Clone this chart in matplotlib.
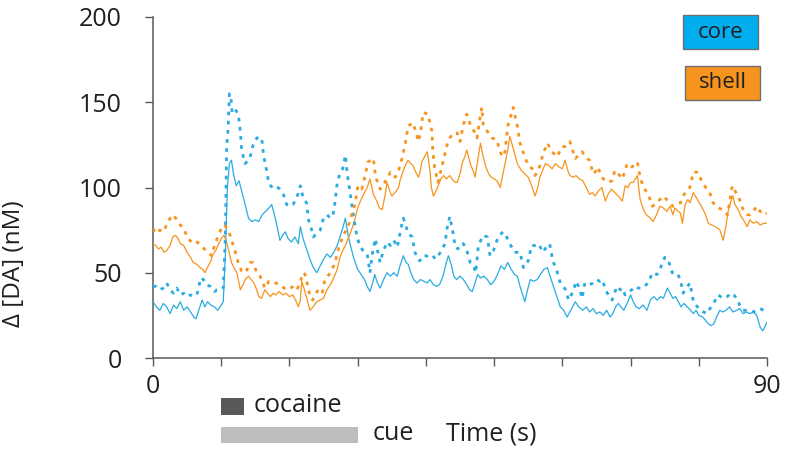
import matplotlib
matplotlib.use("Agg")
import matplotlib.pyplot as plt
from matplotlib.patches import Rectangle

plt.rcParams['font.family'] = ['Open Sans', 'DejaVu Sans']

# ---- data: dopamine traces (nM) ----
core_mean_t = [0, 0.5, 1, 1.5, 2, 2.5, 3, 3.5, 4, 4.5, 5, 5.5, 6, 6.3, 6.8, 7.2, 7.6, 8, 8.5, 9, 9.5, 10, 10.3, 10.6, 10.9, 11.2, 11.5, 11.8, 12.2, 12.6, 13, 13.5, 14, 14.5, 15, 15.5, 16, 16.5, 17, 17.4, 17.8, 18.2, 18.6, 19, 19.4, 19.8, 20.3, 20.8, 21.3, 21.6, 22, 22.5, 23, 23.5, 24, 24.5, 25, 25.5, 26, 26.5, 27, 27.4, 27.8, 28.2, 28.6, 29, 29.4, 30, 30.5, 31, 31.4, 31.8, 32.2, 32.5, 32.9, 33.3, 33.8, 34.3, 34.8, 35.3, 35.8, 36.2, 36.7, 37.1, 37.4, 37.8, 38.2, 38.7, 39.2, 39.7, 40.2, 40.6, 41.1, 41.6, 42, 42.5, 43, 43.3, 43.7, 44.1, 44.5, 45, 45.5, 46, 46.4, 46.8, 47.2, 47.6, 48, 48.5, 49, 49.5, 50, 50.5, 51, 51.5, 52, 52.5, 53, 53.4, 53.8, 54.2, 54.5, 54.9, 55.3, 55.8, 56.3, 56.8, 57.3, 57.8, 58.2, 58.7, 59.2, 59.7, 60.2, 60.7, 61.1, 61.5, 61.9, 62.4, 63, 63.5, 64, 64.5, 65, 65.5, 66, 66.5, 67, 67.4, 67.8, 68.2, 68.6, 69, 69.5, 70, 70.4, 70.8, 71.3, 71.8, 72.4, 72.9, 73.4, 73.9, 74.4, 74.8, 75.4, 75.8, 76.2, 76.6, 77, 77.4, 77.8, 78.3, 78.8, 79.2, 79.6, 80, 80.6, 81, 81.4, 81.8, 82.2, 82.6, 83.1, 83.5, 84, 84.5, 85, 85.6, 86, 86.5, 87, 87.5, 88, 88.5, 89, 89.4, 90]
core_mean = [33, 30, 28, 32, 30, 26, 31, 29, 33, 28, 30, 27, 24, 23, 29, 34, 30, 33, 31, 30, 28, 31, 33, 60, 100, 114, 116, 108, 101, 104, 98, 90, 82, 80, 81, 80, 84, 86, 88, 90, 84, 77, 69, 72, 74, 70, 68, 71, 67, 77, 70, 64, 58, 53, 50, 54, 58, 61, 59, 62, 66, 71, 76, 82, 72, 65, 59, 52, 49, 46, 42, 39, 44, 49, 44, 41, 46, 50, 48, 50, 48, 54, 60, 56, 55, 50, 46, 44, 46, 45, 44, 46, 43, 42, 43, 48, 56, 60, 55, 48, 46, 48, 46, 43, 40, 39, 44, 49, 47, 48, 46, 43, 45, 49, 54, 52, 56, 52, 49, 48, 42, 37, 33, 40, 46, 45, 46, 49, 52, 53, 48, 42, 36, 30, 28, 24, 27, 30, 33, 30, 28, 30, 27, 29, 26, 27, 25, 28, 24, 26, 30, 32, 30, 28, 32, 37, 33, 30, 29, 31, 28, 34, 36, 34, 36, 35, 41, 38, 35, 36, 33, 30, 32, 30, 28, 26, 28, 25, 24, 22, 20, 19, 20, 24, 28, 27, 28, 30, 27, 28, 29, 26, 27, 26, 27, 25, 18, 16, 21]

core_upper_t = [0, 0.5, 1, 1.5, 2, 2.5, 3, 3.5, 4, 4.5, 5, 5.5, 6, 6.5, 7, 7.4, 7.8, 8.4, 9, 9.4, 10, 10.3, 10.6, 10.8, 11, 11.2, 11.4, 11.6, 12, 12.5, 12.8, 13, 13.5, 14.2, 14.6, 15, 15.5, 16, 16.2, 16.7, 17, 17.5, 18, 18.6, 19.1, 19.6, 20, 20.5, 21, 21.6, 22, 22.5, 22.8, 23.2, 23.5, 24, 24.5, 25, 25.5, 26, 26.4, 26.7, 27, 27.4, 27.8, 28.2, 28.5, 28.9, 29.2, 29.6, 29.9, 30.4, 31, 31.4, 31.8, 32.1, 32.6, 32.8, 33.3, 33.7, 34.3, 34.8, 35.3, 35.8, 36.2, 36.5, 36.7, 37.1, 37.4, 38, 38.4, 38.8, 39.1, 39.6, 40, 40.5, 41, 41.4, 41.8, 42.3, 42.8, 43.1, 43.5, 44, 44.3, 44.7, 45.1, 45.5, 46, 46.5, 47, 47.3, 47.7, 48.4, 49, 49.4, 49.9, 50.6, 51.3, 51.6, 52.3, 53, 53.8, 54.3, 55, 55.5, 56, 56.5, 57.2, 57.9, 58.2, 58.6, 59.2, 59.7, 60.1, 60.5, 60.9, 61.3, 61.6, 62, 62.5, 62.9, 63.3, 64, 64.5, 65, 65.5, 65.8, 66.2, 66.6, 67.3, 68, 68.5, 68.8, 69.2, 69.7, 70.2, 70.7, 71.1, 71.8, 72.3, 72.6, 73.2, 73.9, 74.3, 74.6, 75, 75.5, 76.1, 76.8, 77.3, 77.7, 78.2, 78.7, 79, 79.2, 79.8, 80.2, 80.7, 81.2, 81.8, 82.3, 82.8, 83.2, 83.6, 84.2, 84.6, 85.1, 85.6, 86, 86.5, 87, 87.5, 88, 88.5, 89, 89.5, 90]
core_upper = [42, 42, 40, 41, 44, 40, 38, 41, 37, 38, 36, 37, 36, 38, 47, 46, 43, 42, 39, 40, 40, 41, 70, 124, 134, 155, 154, 144, 146, 143, 133, 122, 114, 117, 124, 128, 130, 127, 119, 109, 102, 100, 101, 99, 96, 90, 89, 90, 93, 101, 94, 91, 81, 76, 71, 73, 75, 82, 84, 82, 84, 92, 103, 108, 111, 119, 107, 97, 88, 78, 71, 65, 62, 61, 50, 60, 70, 65, 56, 62, 68, 66, 69, 65, 73, 79, 82, 77, 73, 71, 62, 58, 57, 60, 60, 59, 60, 58, 60, 63, 67, 76, 83, 73, 65, 64, 67, 67, 63, 56, 54, 50, 66, 72, 71, 60, 63, 71, 74, 73, 67, 62, 62, 53, 57, 66, 66, 67, 62, 67, 66, 57, 51, 44, 42, 40, 34, 37, 39, 45, 41, 35, 44, 43, 44, 46, 45, 46, 42, 38, 34, 42, 40, 41, 37, 39, 40, 42, 41, 41, 43, 44, 50, 49, 52, 55, 59, 58, 50, 50, 46, 38, 41, 44, 38, 33, 30, 28, 27, 26, 30, 33, 37, 36, 35, 36, 38, 37, 35, 31, 28, 28, 28, 27, 28, 29, 28, 29]

shell_mean_t = [0, 0.4, 0.8, 1.2, 1.6, 2, 2.5, 2.9, 3.3, 3.7, 4, 4.5, 5, 5.5, 5.9, 6.4, 6.9, 7.3, 7.6, 8.1, 8.5, 8.8, 9.2, 9.5, 10, 10.4, 10.8, 11.2, 11.5, 12, 12.3, 12.8, 13.2, 13.5, 14, 14.4, 14.8, 15.2, 15.5, 15.9, 16.4, 16.8, 17.2, 17.6, 18, 18.5, 19, 19.5, 20, 20.5, 21, 21.3, 21.6, 21.8, 22.2, 22.6, 23, 23.5, 24, 24.5, 25, 25.5, 26, 26.5, 27, 27.4, 27.8, 28.2, 28.6, 29, 29.5, 30, 30.6, 31, 31.4, 31.8, 32.3, 32.8, 33.2, 33.6, 34, 34.3, 34.7, 35, 35.5, 36, 36.2, 36.7, 37.1, 37.4, 37.8, 38.1, 38.5, 38.9, 39.2, 39.4, 39.8, 40.2, 40.6, 40.8, 41.1, 41.5, 41.8, 42.2, 42.6, 43, 43.5, 44, 44.3, 44.6, 45, 45.3, 45.7, 46, 46.5, 47, 47.2, 47.6, 48, 48.4, 48.8, 49.2, 49.6, 50, 50.4, 50.9, 51.3, 51.6, 52, 52.3, 52.8, 53.4, 54, 54.5, 55, 55.6, 56, 56.4, 56.7, 57.1, 57.5, 58, 58.5, 59, 59.5, 60, 60.4, 60.8, 61.1, 61.6, 62, 62.5, 63, 63.5, 64, 64.4, 64.8, 65.3, 65.8, 66.3, 66.7, 67.2, 67.7, 68.2, 68.8, 69.2, 69.6, 70, 70.4, 71, 71.4, 71.9, 72.3, 72.9, 73.3, 73.8, 74.3, 74.8, 75.3, 75.8, 76.2, 76.5, 77, 77.3, 77.6, 78, 78.4, 78.7, 79.2, 79.8, 80.2, 80.5, 80.9, 81.4, 81.9, 82.4, 82.8, 83.1, 83.6, 84, 84.3, 84.7, 85, 85.3, 85.8, 86.2, 86.7, 87.1, 87.5, 88, 88.5, 89, 89.5, 90]
shell_mean = [67, 66, 64, 65, 62, 63, 66, 71, 72, 70, 67, 66, 62, 59, 56, 55, 53, 52, 50, 54, 57, 61, 63, 66, 70, 72, 68, 61, 56, 52, 50, 40, 43, 46, 48, 46, 44, 40, 36, 35, 40, 38, 36, 38, 37, 39, 37, 38, 36, 37, 33, 30, 34, 45, 40, 34, 28, 30, 33, 34, 35, 40, 43, 47, 52, 59, 63, 66, 70, 74, 80, 88, 94, 97, 100, 105, 96, 92, 88, 87, 95, 103, 98, 95, 97, 100, 104, 110, 114, 116, 114, 113, 109, 106, 110, 115, 118, 121, 110, 100, 95, 98, 101, 105, 107, 105, 107, 104, 103, 103, 108, 114, 118, 122, 114, 109, 106, 116, 126, 118, 112, 108, 106, 105, 104, 100, 108, 114, 122, 130, 123, 114, 110, 108, 106, 100, 95, 100, 106, 110, 114, 113, 111, 114, 112, 111, 116, 110, 107, 106, 107, 105, 104, 100, 96, 97, 95, 98, 100, 92, 96, 99, 97, 95, 92, 101, 100, 103, 103, 107, 93, 87, 84, 82, 80, 84, 89, 88, 86, 89, 84, 88, 86, 85, 79, 90, 93, 91, 97, 93, 90, 88, 85, 79, 78, 77, 76, 75, 69, 78, 86, 92, 95, 90, 87, 83, 80, 77, 81, 79, 80, 78, 79, 79]

shell_upper_t = [0, 0.5, 1, 1.5, 2, 2.5, 3, 3.5, 4, 4.5, 5, 5.4, 6, 6.5, 7, 7.5, 8, 8.6, 9.1, 9.5, 10, 10.5, 11, 11.3, 12, 12.5, 13, 13.5, 13.8, 14.2, 14.7, 15.2, 15.7, 16, 16.4, 17, 17.5, 18, 18.6, 19.2, 19.6, 20.1, 20.6, 21.1, 21.6, 22, 22.3, 22.7, 23, 23.4, 23.8, 24.2, 24.8, 25.2, 26, 26.7, 27.1, 27.9, 28.6, 29.2, 29.6, 30, 30.3, 30.6, 31.1, 31.5, 32, 32.3, 32.6, 33, 33.3, 33.8, 34.3, 34.8, 35.5, 36, 36.5, 37, 37.4, 38.1, 38.5, 38.9, 39.2, 39.6, 40.3, 40.9, 41, 41.3, 41.8, 42.2, 42.5, 43.1, 43.5, 44, 44.6, 45, 45.5, 46, 46.5, 47.2, 47.5, 47.9, 48.2, 48.4, 49, 49.7, 50.4, 50.8, 51.2, 51.6, 52, 52.6, 52.8, 53.4, 53.8, 54.5, 55, 55.6, 56, 56.5, 57.2, 57.8, 58.5, 59.2, 59.6, 60, 60.4, 61.1, 61.5, 61.9, 62.4, 62.9, 63.6, 64, 64.5, 65, 65.2, 65.6, 66, 66.7, 67.3, 67.7, 68.2, 68.8, 69.5, 70.2, 71, 71.4, 71.9, 72.6, 73.2, 73.9, 74.3, 74.8, 75.5, 76.2, 76.8, 77.3, 77.7, 78.2, 78.7, 79.2, 79.9, 80.5, 81.2, 81.7, 82.1, 82.8, 83.6, 84.2, 84.6, 84.9, 85.3, 85.8, 86.5, 87.1, 87.5, 88, 88.5, 89, 89.7, 90]
shell_upper = [76, 73, 75, 74, 78, 82, 84, 81, 78, 76, 71, 69, 67, 68, 66, 64, 62, 60, 67, 71, 76, 78, 75, 72, 63, 56, 51, 50, 52, 56, 56, 50, 48, 45, 41, 45, 44, 44, 43, 41, 40, 41, 42, 40, 45, 50, 49, 42, 36, 34, 37, 40, 38, 46, 50, 56, 63, 72, 77, 85, 90, 100, 101, 99, 107, 115, 116, 117, 107, 102, 99, 102, 105, 109, 106, 110, 117, 126, 136, 138, 133, 127, 132, 144, 143, 133, 122, 111, 103, 110, 115, 125, 129, 132, 132, 127, 137, 143, 137, 132, 129, 140, 147, 137, 133, 129, 128, 122, 118, 121, 136, 144, 147, 136, 126, 118, 113, 111, 107, 110, 120, 126, 121, 118, 121, 124, 124, 127, 122, 117, 119, 121, 117, 116, 108, 110, 112, 108, 105, 103, 104, 110, 108, 105, 114, 112, 115, 106, 100, 96, 89, 91, 93, 95, 92, 89, 90, 91, 95, 98, 100, 109, 109, 103, 99, 96, 91, 88, 87, 84, 93, 101, 98, 95, 87, 84, 84, 86, 89, 86, 84, 85]

# event bars below the time axis (s)
cocaine_window = (10, 13.4)
cue_window = (10, 30)

x_ticks = [0, 10, 20, 30, 40, 50, 60, 70, 80, 90]
x_tick_labels = ['0', '', '', '', '', '', '', '', '', '90']
y_ticks = [0, 50, 100, 150, 200]

BLUE = '#29ABE2'
ORANGE = '#F7941D'
AXIS_GRAY = '#58595B'
TEXT = '#231F20'

W, H = 788, 451
fig = plt.figure(figsize=(W / 100, H / 100), dpi=100)
ax = fig.add_axes([153 / W, 93 / H, 614 / W, 341 / H])

dash = (0, (1.3, 2.0))
ax.plot(core_mean_t, core_mean, color=BLUE, lw=0.9, zorder=3)
ax.plot(shell_mean_t, shell_mean, color=ORANGE, lw=0.9, zorder=3)
ax.plot(core_upper_t, core_upper, color=BLUE, lw=2.0, linestyle=dash, zorder=4)
ax.plot(shell_upper_t, shell_upper, color=ORANGE, lw=2.0, linestyle=dash, zorder=4)

ax.set_xlim(0, 90)
ax.set_ylim(0, 200)
ax.set_xticks(x_ticks)
ax.set_xticklabels(x_tick_labels)
ax.set_yticks(y_ticks)
for s in ('top', 'right'):
    ax.spines[s].set_visible(False)
for s in ('left', 'bottom'):
    ax.spines[s].set_color(AXIS_GRAY)
    ax.spines[s].set_linewidth(1.1)
ax.tick_params(direction='out', length=5.5, width=1.0, color=AXIS_GRAY,
               labelsize=18, labelcolor=TEXT)
ax.tick_params(axis='x', pad=6)
ax.tick_params(axis='y', pad=17)
ax.set_ylabel('Δ [DA] (nM)', fontsize=17.5, color=TEXT)
ax.yaxis.set_label_coords(26 / W, 187 / H, transform=fig.transFigure)

# cocaine and cue event markers
xform = ax.get_xaxis_transform()
ax.add_patch(Rectangle((cocaine_window[0], -(415 - 358) / 341), cocaine_window[1] - cocaine_window[0],
                       17 / 341, transform=xform, clip_on=False,
                       facecolor='#58595B', edgecolor='none'))
ax.add_patch(Rectangle((cue_window[0], -(443 - 358) / 341), cue_window[1] - cue_window[0],
                       16 / 341, transform=xform, clip_on=False,
                       facecolor='#BCBEC0', edgecolor='none'))
fig.text(254 / W, 1 - 405 / H, 'cocaine', fontsize=18, color=TEXT, va='center', ha='left')
fig.text(373 / W, 1 - 434 / H, 'cue', fontsize=18, color=TEXT, va='center', ha='left')
fig.text(446 / W, 1 - 434 / H, 'Time (s)', fontsize=18, color=TEXT, va='center', ha='left')

# region key boxes
for label, color, (x0, y0, x1, y1) in (('core', '#00AEEF', (683, 15, 758, 49)),
                                       ('shell', ORANGE, (685, 66, 760, 100))):
    fig.patches.append(Rectangle((x0 / W, 1 - y1 / H), (x1 - x0) / W, (y1 - y0) / H,
                                 transform=fig.transFigure, facecolor=color,
                                 edgecolor='#6D6E71', lw=1.0))
    fig.text((x0 + x1) / 2 / W, 1 - (y0 + y1) / 2 / H, label, fontsize=16,
             color=TEXT, ha='center', va='center')

fig.savefig('out.png', dpi=100)
